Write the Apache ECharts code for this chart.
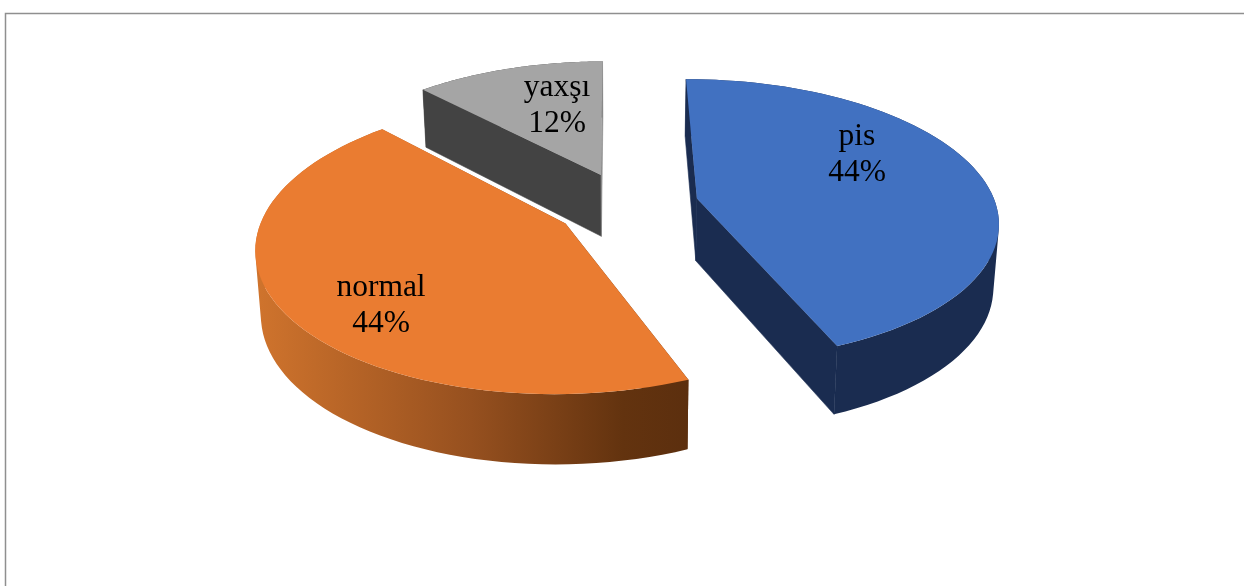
<!DOCTYPE html>
<html>
<head>
<meta charset="utf-8">
<style>html,body{margin:0;padding:0;background:#fff}#chart{width:1244px;height:586px}</style>
<script src="https://cdn.jsdelivr.net/npm/echarts@6/dist/echarts.min.js"></script>
</head>
<body>
<div id="chart"></div>
<script>
const categories = ['pis', 'normal', 'yaxşı'];
const values = [44, 44, 12];

const topColors = ['#4171c1', '#ea7c31', '#a5a5a5'];
const wallColors = ['#1a2c50', null, '#434343'];
const closingWallColors = ['#1a2c50', null, '#8c8c8c'];
const orangeWallStops = [
  { offset: 0, color: '#d0742d' },
  { offset: 0.5, color: '#96501f' },
  { offset: 0.85, color: '#63330f' },
  { offset: 1, color: '#5c2f0e' }
];
const labelCentres = [[857, 154.5], [381, 306], [557, 106]];

// Perspective view of a tilted disc, with each slice pulled out along its bisector.
const view = {
  cx: 627, cy: 205, a: 299, b: 139, p: 0.15,
  depth: 62.5, depthPower: 0.63, shrink: 0.985, explode: 0.24,
  firstAngleDeg: -0.4
};

function project(X, Y, lower) {
  const f = 1 / (1 + view.p * Y);
  const s = lower ? view.shrink : 1;
  return [
    view.cx + view.a * X * f * s,
    view.cy - view.b * Y * f + (lower ? view.depth * Math.pow(f, view.depthPower) : 0)
  ];
}

// One compound path of equally wound quads, so the rims join along their tangents without seams.
function wallPath(topRim, lowRim) {
  let d = '';
  for (let s = 0; s < topRim.length - 1; s++) {
    const q = [topRim[s], topRim[s + 1], lowRim[s + 1], lowRim[s]];
    let area = 0;
    q.forEach((p, n) => {
      const r = q[(n + 1) % 4];
      area += p[0] * r[1] - r[0] * p[1];
    });
    if (area < 0) q.reverse();
    d += 'M' + q.map(p => p[0].toFixed(2) + ' ' + p[1].toFixed(2)).join('L') + 'Z';
  }
  return d;
}

const total = values.reduce((s, v) => s + v, 0);

function renderSlice(params, api) {
  const i = params.dataIndex;
  const value = api.value(0);
  let before = 0;
  for (let k = 0; k < i; k++) before += values[k];
  const first = view.firstAngleDeg * Math.PI / 180;
  const start = first + before / total * 2 * Math.PI;
  const sweep = value / total * 2 * Math.PI;
  const mid = start + sweep / 2;
  const ox = view.explode * Math.sin(mid);
  const oy = view.explode * Math.cos(mid);

  const topRim = [], lowRim = [];
  const steps = 72;
  for (let s = 0; s <= steps; s++) {
    const t = start + sweep * s / steps;
    const X = ox + Math.sin(t), Y = oy + Math.cos(t);
    topRim.push(project(X, Y, false));
    lowRim.push(project(X, Y, true));
  }
  const apexTop = project(ox, oy, false);
  const apexLow = project(ox, oy, true);

  const gradient = {
    type: 'linear', x: 254, y: 0, x2: 688, y2: 0, global: true, colorStops: orangeWallStops
  };
  const wallFill = wallColors[i] || gradient;
  const closingFill = closingWallColors[i] || gradient;
  // The shaded slice has its radial walls hidden under the top face, so only solid walls get a hairline.
  const hairline = wallColors[i] ? 0.6 : 0;
  const children = [];
  children.push({
    type: 'path',
    shape: { pathData: wallPath(topRim, lowRim) },
    style: { fill: wallFill }
  });
  // Radial walls, painted beneath the top face; the hairline closes the joint with the outer wall.
  children.push({
    type: 'polygon',
    shape: { points: [apexTop, topRim[0], lowRim[0], apexLow] },
    style: { fill: wallFill, stroke: wallFill, lineWidth: hairline }
  });
  children.push({
    type: 'polygon',
    shape: { points: [apexTop, topRim[steps], lowRim[steps], apexLow] },
    style: { fill: closingFill, stroke: closingFill, lineWidth: hairline }
  });
  children.push({
    type: 'polygon',
    shape: { points: [apexTop].concat(topRim) },
    style: { fill: topColors[i] }
  });
  children.push({
    type: 'text',
    style: {
      x: labelCentres[i][0],
      y: labelCentres[i][1],
      text: categories[i] + '\n' + Math.round(value / total * 100) + '%',
      align: 'center',
      verticalAlign: 'middle',
      font: '31.5px "Liberation Serif"',
      lineHeight: 36,
      fill: '#000'
    }
  });
  return { type: 'group', children: children };
}

const chart = echarts.init(document.getElementById('chart'), null, { renderer: 'canvas' });
chart.setOption({
  animation: false,
  backgroundColor: '#fff',
  graphic: [{
    type: 'polyline',
    silent: true,
    shape: { points: [[5.5, 586], [5.5, 13.5], [1244, 13.5]] },
    style: { fill: null, stroke: '#8f8f8f', lineWidth: 1.5 }
  }],
  series: [{
    type: 'custom',
    coordinateSystem: 'none',
    renderItem: renderSlice,
    data: categories.map((name, i) => ({ name: name, value: [values[i]] }))
  }]
});
</script>
</body>
</html>
